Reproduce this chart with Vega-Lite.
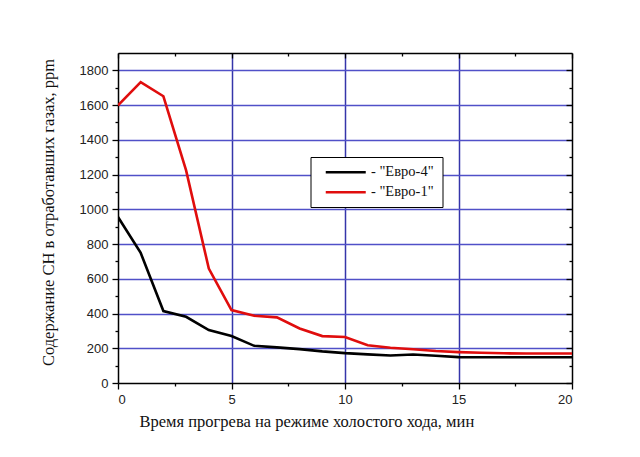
{
  "$schema": "https://vega.github.io/schema/vega-lite/v6.json",
  "autosize": "none",
  "width": 454,
  "height": 330,
  "padding": {"left": 118, "top": 53, "right": 68, "bottom": 74},
  "background": "white",
  "config": {
    "view": {"stroke": null},
    "axis": {"labelFont": "Liberation Sans", "labelFontSize": 13, "labelColor": "#222222", "titleFont": "Liberation Serif", "titleFontSize": 16.5, "titleFontWeight": "normal", "titleColor": "#111111", "domainColor": "#000000", "domainWidth": 1.5, "tickColor": "#000000", "tickWidth": 1.3}
  },
  "data": {"values": [
    {"t": 0, "ppm": 1598, "s": "Евро-1"},
    {"t": 1, "ppm": 1732, "s": "Евро-1"},
    {"t": 2, "ppm": 1651, "s": "Евро-1"},
    {"t": 3, "ppm": 1224, "s": "Евро-1"},
    {"t": 4, "ppm": 659, "s": "Евро-1"},
    {"t": 5, "ppm": 420, "s": "Евро-1"},
    {"t": 6, "ppm": 387, "s": "Евро-1"},
    {"t": 7, "ppm": 378, "s": "Евро-1"},
    {"t": 8, "ppm": 314, "s": "Евро-1"},
    {"t": 9, "ppm": 270, "s": "Евро-1"},
    {"t": 10, "ppm": 265, "s": "Евро-1"},
    {"t": 11, "ppm": 217, "s": "Евро-1"},
    {"t": 12, "ppm": 203, "s": "Евро-1"},
    {"t": 13, "ppm": 194, "s": "Евро-1"},
    {"t": 14, "ppm": 184, "s": "Евро-1"},
    {"t": 15, "ppm": 178, "s": "Евро-1"},
    {"t": 16, "ppm": 174, "s": "Евро-1"},
    {"t": 17, "ppm": 171, "s": "Евро-1"},
    {"t": 18, "ppm": 170, "s": "Евро-1"},
    {"t": 19, "ppm": 170, "s": "Евро-1"},
    {"t": 20, "ppm": 170, "s": "Евро-1"},
    {"t": 0, "ppm": 956, "s": "Евро-4"},
    {"t": 1, "ppm": 749, "s": "Евро-4"},
    {"t": 2, "ppm": 414, "s": "Евро-4"},
    {"t": 3, "ppm": 381, "s": "Евро-4"},
    {"t": 4, "ppm": 305, "s": "Евро-4"},
    {"t": 5, "ppm": 270, "s": "Евро-4"},
    {"t": 6, "ppm": 214, "s": "Евро-4"},
    {"t": 7, "ppm": 205, "s": "Евро-4"},
    {"t": 8, "ppm": 195, "s": "Евро-4"},
    {"t": 9, "ppm": 182, "s": "Евро-4"},
    {"t": 10, "ppm": 172, "s": "Евро-4"},
    {"t": 11, "ppm": 165, "s": "Евро-4"},
    {"t": 12, "ppm": 158, "s": "Евро-4"},
    {"t": 13, "ppm": 164, "s": "Евро-4"},
    {"t": 14, "ppm": 157, "s": "Евро-4"},
    {"t": 15, "ppm": 149, "s": "Евро-4"},
    {"t": 16, "ppm": 148, "s": "Евро-4"},
    {"t": 17, "ppm": 148, "s": "Евро-4"},
    {"t": 18, "ppm": 148, "s": "Евро-4"},
    {"t": 19, "ppm": 148, "s": "Евро-4"},
    {"t": 20, "ppm": 148, "s": "Евро-4"}
  ]},
  "resolve": {"axis": {"x": "independent", "y": "independent"}},
  "layer": [
    {
      "mark": {"type": "line", "strokeWidth": 2.6, "clip": true},
      "encoding": {
        "x": {"field": "t", "type": "quantitative",
          "scale": {"domain": [0, 20], "nice": false, "zero": false},
          "axis": {"orient": "bottom", "title": "Время прогрева на режиме холостого хода, мин",
            "values": [0, 2.5, 5, 7.5, 10, 12.5, 15, 17.5, 20],
            "labelExpr": "datum.value % 5 === 0 ? format(datum.value, 'd') : ''",
            "tickSize": {"condition": {"test": "datum.value % 5 === 0", "value": 6}, "value": 3},
            "labelPadding": 4,
            "grid": true, "gridColor": "#3535aa", "gridWidth": 1.5,
            "gridOpacity": {"condition": {"test": "datum.value % 5 === 0 && datum.value > 0 && datum.value < 20", "value": 1}, "value": 0},
            "titleAnchor": null, "titleAlign": "left", "titleX": 21, "titleY": 43, "titleBaseline": "alphabetic",
            "zindex": 0}},
        "y": {"field": "ppm", "type": "quantitative",
          "scale": {"domain": [0, 1900], "nice": false, "zero": false},
          "axis": {"orient": "left", "title": "Содержание СН в отработавших газах, ppm",
            "values": [0, 100, 200, 300, 400, 500, 600, 700, 800, 900, 1000, 1100, 1200, 1300, 1400, 1500, 1600, 1700, 1800],
            "labelExpr": "datum.value % 200 === 0 ? format(datum.value, 'd') : ''",
            "tickSize": {"condition": {"test": "datum.value % 200 === 0", "value": 6}, "value": 3},
            "labelPadding": 4,
            "grid": true, "gridColor": "#5050c8", "gridWidth": 1.5,
            "gridOpacity": {"condition": {"test": "datum.value % 200 === 0 && datum.value > 0", "value": 1}, "value": 0},
            "titleAnchor": null, "titleAngle": -90, "titleX": -70, "titleY": 159, "titleAlign": "center", "titleBaseline": "middle",
            "zindex": 0}},
        "color": {"field": "s", "type": "nominal",
          "scale": {"domain": ["Евро-4", "Евро-1"], "range": ["#000000", "#e00d0d"]},
          "legend": {"orient": "none", "legendX": 192.5, "legendY": 104, "title": null,
            "symbolType": "M0,0H8", "symbolSize": 100, "symbolStrokeWidth": 2.6,
            "labelFont": "Liberation Serif", "labelFontSize": 14.5, "labelColor": "#111111",
            "labelExpr": "'- \"' + datum.label + '\"'",
            "labelOffset": 38, "padding": 8, "rowPadding": 5,
            "strokeColor": "#000000", "fillColor": "white"}}
      }
    },
    {
      "mark": {"type": "line", "opacity": 0},
      "encoding": {
        "x": {"field": "t", "type": "quantitative",
          "axis": {"orient": "top", "title": null, "labels": false, "grid": false,
            "values": [0, 2.5, 5, 7.5, 10, 12.5, 15, 17.5, 20],
            "tickSize": {"condition": {"test": "datum.value % 5 === 0", "value": -5}, "value": -3}}},
        "y": {"field": "ppm", "type": "quantitative",
          "axis": {"orient": "right", "title": null, "labels": false, "grid": false,
            "values": [0, 100, 200, 300, 400, 500, 600, 700, 800, 900, 1000, 1100, 1200, 1300, 1400, 1500, 1600, 1700, 1800],
            "tickSize": {"condition": {"test": "datum.value % 200 === 0", "value": -6}, "value": -3}}},
        "detail": {"field": "s"}
      }
    }
  ]
}
